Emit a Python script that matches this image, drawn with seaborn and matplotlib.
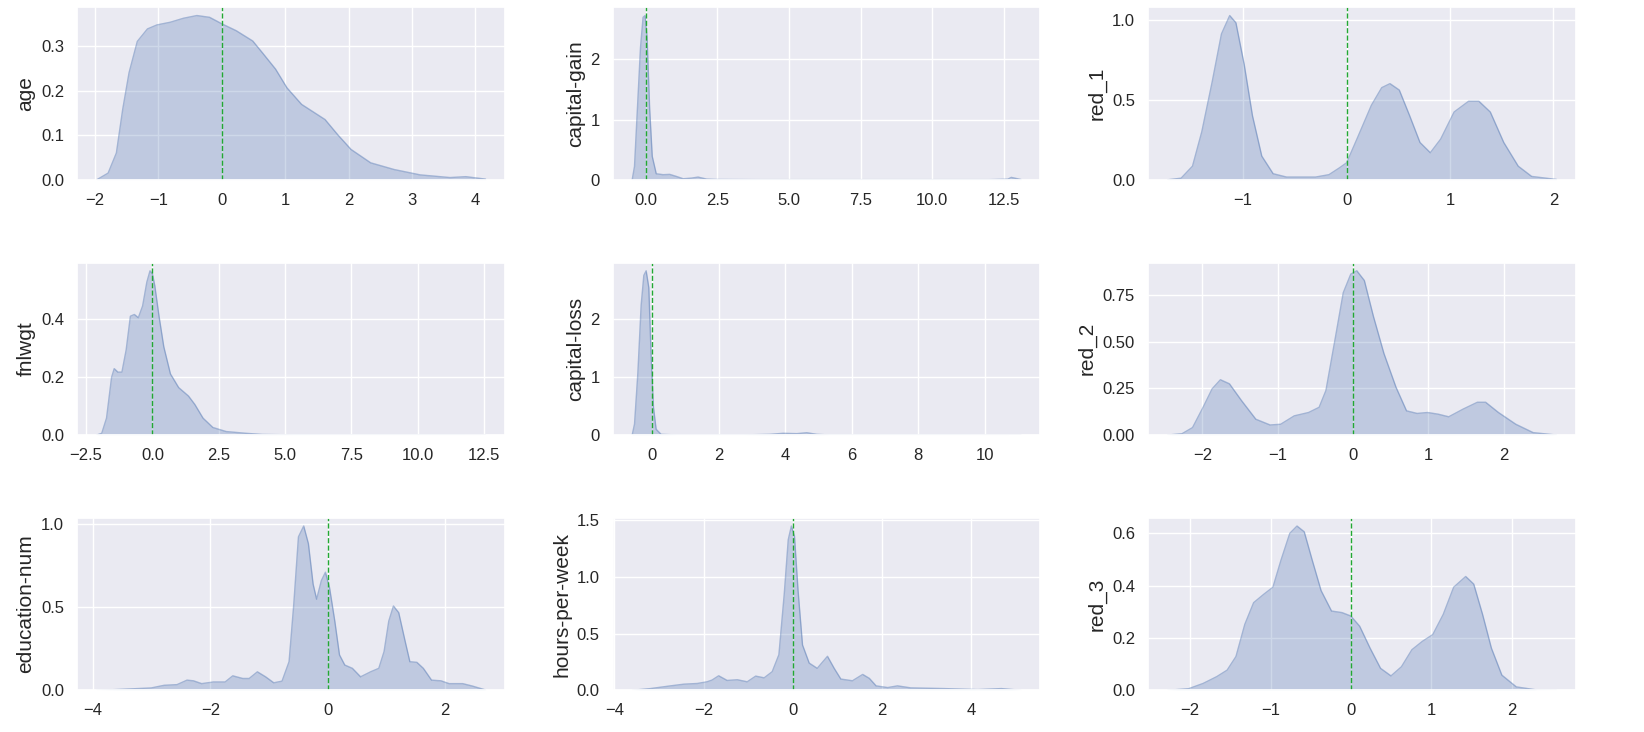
import numpy as np
import pandas as pd
import matplotlib
matplotlib.use("Agg")
import matplotlib.pyplot as plt
from matplotlib.ticker import MultipleLocator
import seaborn as sns

# density curves (standardised features)
age_x = [-1.97, -1.79, -1.66, -1.56, -1.46, -1.33, -1.17, -1.02, -0.81, -0.60, -0.39, -0.19,
         0.01, 0.23, 0.49, 0.64, 0.85, 1.03, 1.26, 1.63, 1.83, 2.04, 2.35, 2.72, 3.13,
         3.60, 3.85, 4.16]
age_y = [0.0, 0.015, 0.06, 0.158, 0.24, 0.31, 0.338, 0.347, 0.353, 0.362, 0.368, 0.364,
         0.349, 0.334, 0.311, 0.285, 0.248, 0.206, 0.169, 0.135, 0.101, 0.068, 0.038, 0.023,
         0.011, 0.005, 0.007, 0.0015]

gain_x = [-0.47, -0.39, -0.27, -0.18, -0.09, -0.02, 0.05, 0.14, 0.23, 0.37, 0.61, 0.84,
          1.07, 1.31, 1.60, 1.83, 2.13, 2.48, 4.0, 6.0, 8.0, 10.0, 12.0, 12.64, 12.76, 13.1]
gain_y = [0.0, 0.22, 1.35, 2.2, 2.70, 2.73, 2.37, 1.18, 0.39, 0.10, 0.085, 0.09,
          0.056, 0.017, 0.028, 0.045, 0.011, 0.005, 0.002, 0.002, 0.002, 0.002, 0.002,
          0.01, 0.04, 0.004]

red1_x = [-1.73, -1.60, -1.49, -1.40, -1.30, -1.21, -1.13, -1.07, -0.99, -0.91, -0.82,
          -0.71, -0.58, -0.30, -0.17, -0.07, 0.0, 0.10, 0.24, 0.34, 0.42, 0.51, 0.61, 0.71,
          0.81, 0.91, 1.04, 1.18, 1.28, 1.39, 1.52, 1.66, 1.79, 2.03]
red1_y = [0.0, 0.01, 0.085, 0.30, 0.61, 0.91, 1.025, 0.98, 0.72, 0.40, 0.148,
          0.038, 0.017, 0.017, 0.032, 0.074, 0.106, 0.254, 0.465, 0.575, 0.60, 0.56, 0.40,
          0.233, 0.169, 0.254, 0.423, 0.49, 0.49, 0.423, 0.233, 0.085, 0.021, 0.002]

fnl_x = [-2.10, -1.91, -1.73, -1.54, -1.44, -1.30, -1.15, -0.99, -0.83, -0.68, -0.53,
         -0.37, -0.21, -0.09, 0.0, 0.09, 0.25, 0.43, 0.68, 0.99, 1.36, 1.60, 1.91, 2.28,
         2.78, 3.52, 4.14, 5.37, 8.0, 12.56]
fnl_y = [0.0, 0.006, 0.058, 0.198, 0.228, 0.216, 0.216, 0.292, 0.408, 0.414, 0.403,
         0.443, 0.525, 0.564, 0.554, 0.513, 0.408, 0.303, 0.21, 0.163, 0.134, 0.105, 0.058,
         0.026, 0.012, 0.006, 0.002, 0.0005, 0.0003, 0.0]

loss_x = [-0.60, -0.53, -0.43, -0.33, -0.25, -0.18, -0.10, -0.03, 0.04, 0.12, 0.27,
          0.72, 2.74, 3.54, 3.94, 4.35, 4.65, 4.95, 5.35, 11.09]
loss_y = [0.0, 0.19, 1.07, 2.25, 2.76, 2.84, 2.55, 1.37, 0.48, 0.10, 0.012,
          0.002, 0.002, 0.012, 0.03, 0.024, 0.04, 0.012, 0.001, 0.0]

red2_x = [-2.46, -2.27, -2.13, -1.99, -1.87, -1.76, -1.64, -1.48, -1.29, -1.10, -0.96,
          -0.78, -0.59, -0.45, -0.36, -0.24, -0.13, -0.03, 0.05, 0.15, 0.27, 0.41, 0.57,
          0.71, 0.85, 0.99, 1.13, 1.27, 1.46, 1.65, 1.76, 1.93, 2.16, 2.39, 2.70]
red2_y = [0.0, 0.007, 0.04, 0.149, 0.248, 0.297, 0.275, 0.185, 0.085, 0.054, 0.058,
          0.103, 0.121, 0.149, 0.239, 0.511, 0.764, 0.864, 0.882, 0.83, 0.638, 0.438, 0.257,
          0.13, 0.116, 0.121, 0.112, 0.098, 0.139, 0.176, 0.176, 0.121, 0.058, 0.013, 0.0]

edu_x = [-3.94, -3.63, -3.01, -2.79, -2.57, -2.40, -2.29, -2.15, -1.95, -1.75, -1.62,
         -1.45, -1.34, -1.20, -1.06, -0.92, -0.78, -0.66, -0.58, -0.50, -0.41, -0.33, -0.25,
         -0.19, -0.11, -0.04, 0.03, 0.12, 0.20, 0.29, 0.42, 0.56, 0.73, 0.87, 0.96, 1.04,
         1.12, 1.21, 1.32, 1.40, 1.52, 1.63, 1.77, 1.93, 2.07, 2.30, 2.46, 2.69]
edu_y = [0.0, 0.004, 0.014, 0.03, 0.034, 0.061, 0.057, 0.04, 0.05, 0.05, 0.087,
         0.071, 0.071, 0.111, 0.081, 0.045, 0.055, 0.172, 0.517, 0.923, 0.988, 0.882, 0.639,
         0.548, 0.659, 0.71, 0.618, 0.416, 0.213, 0.152, 0.132, 0.081, 0.111, 0.132, 0.233,
         0.416, 0.507, 0.467, 0.294, 0.172, 0.168, 0.132, 0.061, 0.057, 0.04, 0.04, 0.026, 0.002]

hours_x = [-3.60, -3.19, -2.74, -2.44, -2.14, -1.92, -1.81, -1.66, -1.47, -1.24, -1.02,
           -0.83, -0.64, -0.46, -0.31, -0.19, -0.10, -0.03, 0.04, 0.12, 0.22, 0.37, 0.55,
           0.78, 0.93, 1.08, 1.34, 1.57, 1.72, 1.87, 2.13, 2.35, 2.65, 3.40, 4.15, 4.68, 5.12]
hours_y = [0.0, 0.015, 0.039, 0.054, 0.06, 0.075, 0.09, 0.128, 0.087, 0.093, 0.075,
           0.125, 0.11, 0.164, 0.314, 0.85, 1.33, 1.45, 1.36, 0.88, 0.40, 0.24, 0.194,
           0.30, 0.194, 0.099, 0.084, 0.14, 0.105, 0.039, 0.024, 0.039, 0.021, 0.015, 0.006,
           0.015, 0.0]

red3_x = [-2.28, -2.02, -1.84, -1.67, -1.54, -1.43, -1.32, -1.21, -1.08, -0.97, -0.87,
          -0.76, -0.67, -0.58, -0.48, -0.37, -0.24, -0.11, 0.0, 0.11, 0.24, 0.37, 0.50,
          0.63, 0.76, 0.89, 1.02, 1.15, 1.28, 1.43, 1.53, 1.64, 1.75, 1.88, 2.06, 2.32, 2.56]
red3_y = [0.0, 0.006, 0.026, 0.052, 0.077, 0.129, 0.252, 0.335, 0.368, 0.394, 0.497,
          0.60, 0.628, 0.606, 0.497, 0.381, 0.303, 0.297, 0.284, 0.245, 0.161, 0.084, 0.055,
          0.09, 0.155, 0.187, 0.213, 0.29, 0.394, 0.435, 0.406, 0.29, 0.161, 0.058, 0.013,
          0.001, 0.0]

# grid order: rows left-to-right
names = ["age", "capital-gain", "red_1",
         "fnlwgt", "capital-loss", "red_2",
         "education-num", "hours-per-week", "red_3"]
curves = [(age_x, age_y), (gain_x, gain_y), (red1_x, red1_y),
          (fnl_x, fnl_y), (loss_x, loss_y), (red2_x, red2_y),
          (edu_x, edu_y), (hours_x, hours_y), (red3_x, red3_y)]
ref_lines = [0, 0, 0, 0, 0, 0, 0, 0, 0]
x_steps = [1, 2.5, 1, 2.5, 2, 1, 2, 2, 1]
y_steps = [0.1, 1, 0.5, 0.2, 1, 0.25, 0.5, 0.5, 0.2]

sns.set_theme(style="darkgrid")
plt.rcParams["font.family"] = ["Liberation Sans", "DejaVu Sans"]

BLUE = "#4C72B0"

fig, axes = plt.subplots(3, 3, figsize=(16.44, 7.32), dpi=100)
fig.subplots_adjust(left=0.047, right=0.9586, top=0.99, bottom=0.057,
                    wspace=0.252, hspace=0.48)

for i, ax in enumerate(axes.flat):
    xs, ys = curves[i]
    df = pd.DataFrame({"x": xs, "density": ys})
    sns.lineplot(data=df, x="x", y="density", ax=ax, color=BLUE, alpha=0.45, linewidth=1)
    ax.fill_between(df["x"], df["density"], color=BLUE, alpha=0.27, linewidth=0)
    ax.axvline(ref_lines[i], color="#22a833", linestyle="--", linewidth=1)
    ax.set_ylim(bottom=0)
    ax.xaxis.set_major_locator(MultipleLocator(x_steps[i]))
    ax.yaxis.set_major_locator(MultipleLocator(y_steps[i]))
    ax.set_xlabel("")
    ax.set_ylabel(names[i], fontsize=15)
    ax.tick_params(labelsize=12)

fig.savefig("out.png", dpi=100)
